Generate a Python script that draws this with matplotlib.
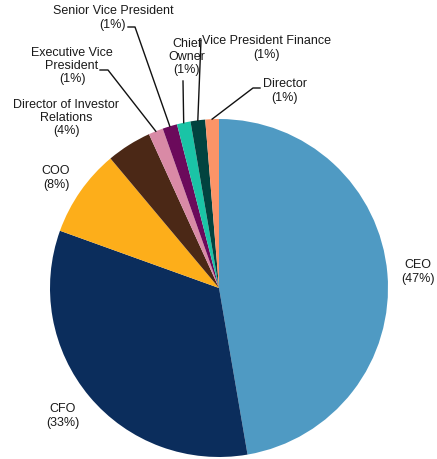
import numpy as np
import matplotlib.pyplot as plt

plt.rcParams['font.family'] = ['Liberation Sans', 'DejaVu Sans']

titles = ['CEO', 'CFO', 'COO', 'Director of Investor\nRelations',
          'Executive Vice\nPresident', 'Senior Vice President', 'Chief\nOwner',
          'Vice President Finance', 'Director']
shares = [47.3, 33.2, 8.4, 4.3, 1.4, 1.4, 1.3, 1.4, 1.3]
colors = ['#4F9AC3', '#0B2D5C', '#FDAE1A', '#4B2816', '#D98AA6',
          '#6B0A5B', '#1AC4A6', '#01433F', '#FC9467']

W, H = 437, 459
cx, cy, R = 219, H - 288, 169

# label centres (pixels from top-left) and optional elbow start for leader lines
label_xy = [(418, 272), (63, 416), (56, 178), (66, 118), (72, 66),
            (113, 18), (187, 57), (267, 48), (285, 91)]
elbow = [None, None, None, None, [(100, 70), (108, 70)], [(128, 27), (135, 27)],
         [(183, 81)], [(201, 40)], [(260, 88), (253, 88)]]

fig = plt.figure(figsize=(W / 100, H / 100), dpi=100)
ax = fig.add_axes([0, 0, 1, 1])
ax.pie(shares, colors=colors, startangle=90, counterclock=False,
       center=(cx, cy), radius=R, wedgeprops=dict(linewidth=0))
ax.set_xlim(0, W)
ax.set_ylim(0, H)
ax.set_aspect('equal')
ax.axis('off')

frac = np.array(shares) / sum(shares)
mids = (np.cumsum(frac) - frac / 2) * 2 * np.pi
for name, v, (tx, ty), el, th in zip(titles, shares, label_xy, elbow, mids):
    ax.text(tx, H - ty, f'{name}\n({v:.0f}%)', ha='center', va='center',
            fontsize=9, linespacing=1.15, color='#1a1a1a')
    if el:
        px = [p[0] for p in el] + [cx + R * np.sin(th)]
        py = [H - p[1] for p in el] + [cy + R * np.cos(th)]
        ax.plot(px, py, color='#111111', lw=1)

fig.savefig('out.png', dpi=100)
